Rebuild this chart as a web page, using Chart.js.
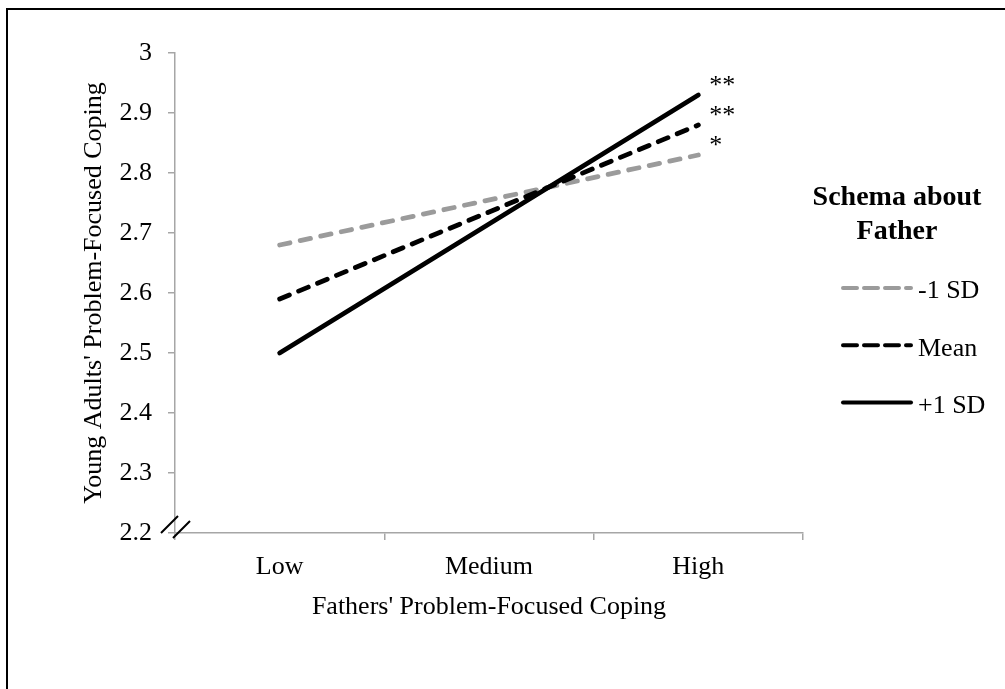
<!DOCTYPE html>
<html>
<head>
<meta charset="utf-8">
<script src="https://cdn.jsdelivr.net/npm/chart.js@4.4.1/dist/chart.umd.min.js"></script>
<style>
  html, body { margin: 0; padding: 0; background: #ffffff; }
  #wrap { position: relative; width: 1005px; height: 689px; }
</style>
</head>
<body>
<div id="wrap"><canvas id="c" width="1005" height="689"></canvas></div>
<script>
// ---- data ----
const categories = ['Low', 'Medium', 'High'];
const seriesNames = ['-1 SD', 'Mean', '+1 SD'];
const minusSD = [2.68, null, 2.83];
const meanSD = [2.59, null, 2.88];
const plusSD = [2.50, null, 2.93];
const significance = ['*', '**', '**'];
const yTicks = [2.2, 2.3, 2.4, 2.5, 2.6, 2.7, 2.8, 2.9, 3.0];
const xTitle = "Fathers' Problem-Focused Coping";
const yTitle = "Young Adults' Problem-Focused Coping";
const legendTitle = ['Schema about', 'Father'];

// ---- styles ----
const FONT = 'Liberation Serif, "Times New Roman", serif';
const AXIS = '#a6a6a6';
const GRAY = '#9b9b9b';

const decor = {
  id: 'decor',
  beforeDraw(chart) {
    const ctx = chart.ctx;
    ctx.save();
    ctx.fillStyle = '#ffffff';
    ctx.fillRect(0, 0, chart.width, chart.height);
    ctx.strokeStyle = '#000000';
    ctx.lineWidth = 2;
    ctx.beginPath();
    ctx.moveTo(7, chart.height);
    ctx.lineTo(7, 9);
    ctx.lineTo(chart.width, 9);
    ctx.stroke();
    ctx.restore();
  },
  afterDraw(chart) {
    const ctx = chart.ctx;
    const a = chart.chartArea;
    ctx.save();
    // axis break marks
    ctx.strokeStyle = '#000000';
    ctx.lineWidth = 2;
    ctx.beginPath();
    ctx.moveTo(a.left - 14, a.bottom);
    ctx.lineTo(a.left + 3, a.bottom - 17);
    ctx.moveTo(a.left - 2, a.bottom + 5);
    ctx.lineTo(a.left + 15, a.bottom - 12);
    ctx.stroke();

    // significance markers at the last point of each series
    ctx.fillStyle = '#000000';
    ctx.font = '26px ' + FONT;
    ctx.textAlign = 'left';
    ctx.textBaseline = 'alphabetic';
    chart.data.datasets.forEach((ds, i) => {
      const meta = chart.getDatasetMeta(i);
      let idx = ds.data.length - 1;
      while (idx >= 0 && ds.data[idx] == null) idx--;
      const pt = meta.data[idx];
      if (pt) ctx.fillText(significance[i], pt.x + 11, pt.y - 2);
    });

    // legend
    const cx = 897;
    ctx.textAlign = 'center';
    ctx.textBaseline = 'middle';
    ctx.font = 'bold 28px ' + FONT;
    ctx.fillText(legendTitle[0], cx, 198);
    ctx.fillText(legendTitle[1], cx, 232);
    ctx.font = '26px ' + FONT;
    ctx.textAlign = 'left';
    chart.data.datasets.forEach((ds, i) => {
      const y = 288 + i * 57.3;
      ctx.strokeStyle = ds.borderColor;
      ctx.lineWidth = 4;
      ctx.lineCap = 'round';
      ctx.setLineDash(ds.borderDash && ds.borderDash.length ? [14, 7] : []);
      ctx.beginPath();
      ctx.moveTo(843, y);
      ctx.lineTo(911, y);
      ctx.stroke();
      ctx.setLineDash([]);
      ctx.fillStyle = '#000000';
      ctx.fillText(ds.label, 918, y + 3.5);
    });
    ctx.restore();
  }
};

const lineBase = {
  fill: false,
  pointRadius: 0,
  pointHoverRadius: 0,
  tension: 0,
  spanGaps: true,
  borderCapStyle: 'round',
  borderWidth: 4.8
};

new Chart(document.getElementById('c'), {
  type: 'line',
  data: {
    labels: categories,
    datasets: [
      Object.assign({}, lineBase, { label: seriesNames[0], data: minusSD, borderColor: GRAY, borderDash: [10.5, 10.5], order: 2 }),
      Object.assign({}, lineBase, { label: seriesNames[1], data: meanSD, borderColor: '#000000', borderDash: [10.5, 10], order: 1 }),
      Object.assign({}, lineBase, { label: seriesNames[2], data: plusSD, borderColor: '#000000', borderDash: [], order: 0 })
    ]
  },
  options: {
    responsive: false,
    animation: false,
    devicePixelRatio: 1,
    layout: { padding: { top: 53, right: 202, bottom: 0, left: 0 } },
    plugins: {
      legend: { display: false },
      tooltip: { enabled: false }
    },
    scales: {
      x: {
        type: 'category',
        offset: true,
        grid: { display: true, drawOnChartArea: false, drawTicks: true, tickLength: 7, color: AXIS, lineWidth: 1.5, offset: true },
        border: { display: true, color: AXIS, width: 1.5 },
        ticks: { color: '#000000', font: { family: FONT, size: 26 }, padding: 12, maxRotation: 0 },
        title: { display: true, text: xTitle, color: '#000000', font: { family: FONT, size: 26 }, padding: { top: 0, bottom: 66 } },
        afterFit(s) { s.height = 156; }
      },
      y: {
        type: 'linear',
        min: 2.2,
        max: 3,
        afterBuildTicks(s) { s.ticks = yTicks.map(v => ({ value: v })); },
        grid: { display: true, drawOnChartArea: false, drawTicks: true, tickLength: 7, color: AXIS, lineWidth: 1.5 },
        border: { display: true, color: AXIS, width: 1.5 },
        ticks: {
          color: '#000000',
          font: { family: FONT, size: 26 },
          padding: 16,
          callback: v => String(Number(Number(v).toFixed(1)))
        },
        title: { display: true, text: yTitle, color: '#000000', font: { family: FONT, size: 26 }, padding: { top: 79, bottom: 0 } },
        afterFit(s) { s.width = 175; }
      }
    }
  },
  plugins: [decor]
});
</script>
</body>
</html>
